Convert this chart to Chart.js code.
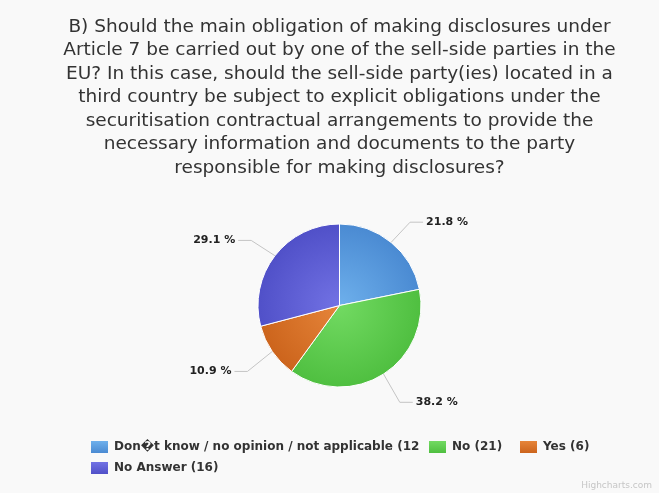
<!DOCTYPE html>
<html>
<head>
<meta charset="utf-8">
<script src="https://cdn.jsdelivr.net/npm/chart.js@4.4.1/dist/chart.umd.min.js"></script>
<style>
    html, body { margin: 0; padding: 0; background: #f9f9f9; }
    #wrap { width: 659px; height: 493px; }
</style>
</head>
<body>
<div id="wrap"><canvas id="pieChart" width="659" height="493"></canvas></div>
<script>
const titleLines = [
    'B) Should the main obligation of making disclosures under',
    'Article 7 be carried out by one of the sell-side parties in the',
    'EU? In this case, should the sell-side party(ies) located in a',
    'third country be subject to explicit obligations under the',
    'securitisation contractual arrangements to provide the',
    'necessary information and documents to the party',
    'responsible for making disclosures?'
];
const categories = ['Don\uFFFDt know / no opinion / not applicable', 'No', 'Yes', 'No Answer'];
const counts = [12, 21, 6, 16];
const sliceColors = ['#4a8ad2', '#4fbf40', '#cc641c', '#5050c8'];
const sliceLights = ['#6eb0ec', '#72da62', '#e6853a', '#7272e4'];

const total = counts.reduce((a, b) => a + b, 0);
const percentLabels = counts.map(c => (c / total * 100).toFixed(1) + ' %');

const textColor = '#333333';
const labelFont = 'bold 11px "DejaVu Sans"';
const legendFont = 'bold 12px "DejaVu Sans"';

// radial shading for each slice, lighter towards the middle of the pie
function sliceFill(context) {
    const i = context.dataIndex;
    const chart = context.chart;
    const area = chart.chartArea;
    if (!area) return sliceColors[i];
    const cx = (area.left + area.right) / 2;
    const cy = (area.top + area.bottom) / 2;
    const g = chart.ctx.createRadialGradient(cx, cy, 0, cx, cy, 82);
    g.addColorStop(0, sliceLights[i]);
    g.addColorStop(1, sliceColors[i]);
    return g;
}

// percentage labels with connector lines outside the pie
const outsideLabels = {
    id: 'outsideLabels',
    afterDatasetsDraw(chart) {
        const ctx = chart.ctx;
        const meta = chart.getDatasetMeta(0);
        ctx.save();
        ctx.font = labelFont;
        ctx.textBaseline = 'middle';
        meta.data.forEach(function(arc, i) {
            const p = arc.getProps(['x', 'y', 'startAngle', 'endAngle', 'outerRadius'], true);
            const mid = (p.startAngle + p.endAngle) / 2;
            const cos = Math.cos(mid), sin = Math.sin(mid);
            const ex = p.x + cos * p.outerRadius, ey = p.y + sin * p.outerRadius;
            const ax = p.x + cos * (p.outerRadius + 30), ay = p.y + sin * (p.outerRadius + 30) + 3;
            const right = cos >= 0;
            const hx = ax + (right ? 13 : -13);

            ctx.strokeStyle = '#c4c4c4';
            ctx.lineWidth = 1;
            ctx.beginPath();
            ctx.moveTo(ex, ey);
            ctx.lineTo(ax, ay);
            ctx.lineTo(hx, ay);
            ctx.stroke();

            ctx.fillStyle = '#222222';
            ctx.textAlign = right ? 'left' : 'right';
            ctx.fillText(percentLabels[i], hx + (right ? 3 : -3), ay);
        });
        ctx.restore();
    }
};

// legend laid out in rows under the pie, first item clipped to its slot
const legendSlots = [
    { x: 91, y: 447, w: 329 },
    { x: 429, y: 447, w: 90 },
    { x: 520, y: 447, w: 130 },
    { x: 91, y: 468, w: 329 }
];

const pieLegend = {
    id: 'pieLegend',
    afterDraw(chart) {
        const ctx = chart.ctx;
        ctx.save();
        ctx.font = legendFont;
        ctx.textBaseline = 'middle';
        ctx.textAlign = 'left';
        categories.forEach(function(name, i) {
            const s = legendSlots[i];
            ctx.save();
            ctx.beginPath();
            ctx.rect(s.x, s.y - 10, s.w, 20);
            ctx.clip();
            ctx.fillStyle = textColor;
            ctx.fillText(name + ' (' + counts[i] + ')', s.x + 23, s.y);
            ctx.restore();

            const g = ctx.createLinearGradient(0, s.y - 6, 0, s.y + 6);
            g.addColorStop(0, sliceLights[i]);
            g.addColorStop(1, sliceColors[i]);
            ctx.fillStyle = g;
            ctx.fillRect(s.x, s.y - 6, 17, 12);
        });

        ctx.font = '9px "DejaVu Sans"';
        ctx.fillStyle = '#c6c6c6';
        ctx.textAlign = 'right';
        ctx.fillText('Highcharts.com', 652, 486);
        ctx.restore();
    }
};

const pieCtx = document.getElementById('pieChart').getContext('2d');
new Chart(pieCtx, {
    type: 'pie',
    data: {
        labels: categories,
        datasets: [{
            data: counts,
            backgroundColor: sliceFill,
            borderColor: '#ffffff',
            borderWidth: 1,
            radius: 81.5
        }]
    },
    options: {
        responsive: false,
        animation: false,
        layout: {
            padding: { left: 20, right: 0, top: 0, bottom: 71.5 }
        },
        plugins: {
            legend: { display: false },
            tooltip: { enabled: false },
            title: {
                display: true,
                text: titleLines,
                color: textColor,
                font: { family: '"DejaVu Sans"', size: 18.5, weight: 'normal', lineHeight: 23.5 / 18.5 },
                padding: { top: 15, bottom: 10 }
            }
        }
    },
    plugins: [outsideLabels, pieLegend]
});
</script>
</body>
</html>
